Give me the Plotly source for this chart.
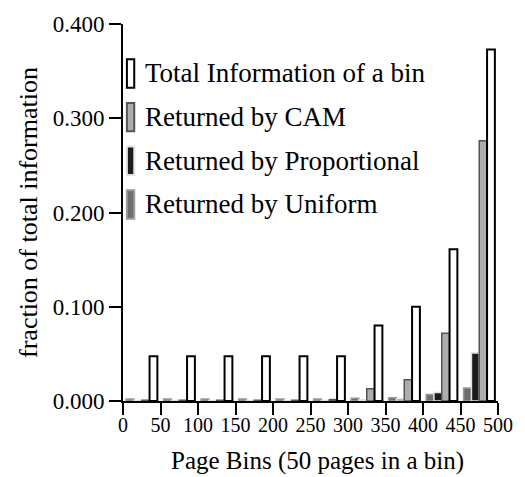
import plotly.graph_objects as go

# Page bins (50 pages per bin), plotted at bin centres
bin_centers = [25, 75, 125, 175, 225, 275, 325, 375, 425, 475]
x_ticks = [0, 50, 100, 150, 200, 250, 300, 350, 400, 450, 500]
y_ticks = [0.0, 0.1, 0.2, 0.3, 0.4]
y_tick_text = ["0.000", "0.100", "0.200", "0.300", "0.400"]

# Fraction of total information per bin
total_info = [0.0476, 0.0476, 0.0476, 0.0476, 0.0476, 0.0476, 0.080, 0.100, 0.161, 0.373]
cam = [0.0008, 0.0008, 0.0008, 0.0008, 0.0008, 0.0015, 0.013, 0.0225, 0.072, 0.276]
proportional = [0.0005, 0.0005, 0.0005, 0.0005, 0.0005, 0.0005, 0.0015, 0.002, 0.009, 0.051]
uniform = [0.002, 0.002, 0.002, 0.002, 0.002, 0.002, 0.003, 0.0035, 0.007, 0.0138]

series = [
    ("Returned by Uniform", uniform, "#6e6e6e", "#9a9a9a", 1.5),
    ("Returned by Proportional", proportional, "#1c1c1c", "#e2e2e2", 1.5),
    ("Returned by CAM", cam, "#adadad", "#555555", 1.5),
    ("Total Information of a bin", total_info, "#ffffff", "#000000", 2),
]

FONT = "Liberation Serif"

fig = go.Figure()
for name, vals, fill, edge, lw in series:
    fig.add_trace(go.Bar(
        x=bin_centers, y=vals, name=name,
        marker=dict(color=fill, line=dict(color=edge, width=lw)),
        showlegend=False,
    ))

# Plot-area geometry in pixels (used to place the hand-drawn legend)
W, H = 525, 477
L, R, T, B = 123, 18, 16, 76
pw, ph = W - L - R, H - T - B


def px_x(px):
    return (px - L) / pw


def px_y(py):
    return (H - B - py) / ph


legend_rows = [
    ("Total Information of a bin", "#ffffff", "#000000", 2),
    ("Returned by CAM", "#adadad", "#555555", 2),
    ("Returned by Proportional", "#1c1c1c", "#e2e2e2", 2),
    ("Returned by Uniform", "#6e6e6e", "#9a9a9a", 2),
]
shapes = []
annotations = []
for i, (label, fill, edge, lw) in enumerate(legend_rows):
    top = 52 + i * 44.6
    bot = top + 29
    shapes.append(dict(
        type="rect", xref="paper", yref="paper",
        x0=px_x(127), x1=px_x(134.5), y0=px_y(bot), y1=px_y(top),
        fillcolor=fill, line=dict(color=edge, width=lw), layer="above",
    ))
    annotations.append(dict(
        xref="paper", yref="paper", x=px_x(143), y=px_y((top + bot) / 2),
        xanchor="left", yanchor="middle", text=label, showarrow=False,
        font=dict(family=FONT, size=27, color="black"),
    ))

# x-axis title, centred slightly right of the plot domain
annotations.append(dict(
    xref="paper", yref="paper", x=px_x(322), y=px_y(462),
    xanchor="center", yanchor="middle", text="Page Bins (50 pages in a bin)",
    showarrow=False, font=dict(family=FONT, size=25, color="black"),
))

fig.update_layout(
    width=W, height=H,
    margin=dict(l=L, r=R, t=T, b=B),
    paper_bgcolor="white", plot_bgcolor="white",
    barmode="group", bargap=1 / 6, bargroupgap=0,
    font=dict(family=FONT, color="black"),
    shapes=shapes, annotations=annotations,
    xaxis=dict(
        range=[0, 500], tickmode="array", tickvals=x_ticks,
        ticks="outside", ticklen=12, tickwidth=2, tickcolor="black",
        ticklabelstandoff=-7,
        showline=True, linecolor="black", linewidth=2,
        showgrid=False, zeroline=False,
        tickfont=dict(family=FONT, size=20, color="black"),
    ),
    yaxis=dict(
        range=[0, 0.4], tickmode="array", tickvals=y_ticks, ticktext=y_tick_text,
        ticks="outside", ticklen=12, tickwidth=2, tickcolor="black",
        showline=True, linecolor="black", linewidth=2,
        showgrid=False, zeroline=False,
        tickfont=dict(family=FONT, size=23, color="black"),
        title=dict(text="fraction of total information",
                   font=dict(family=FONT, size=26, color="black"), standoff=8),
    ),
)

fig.write_html("out.html")
